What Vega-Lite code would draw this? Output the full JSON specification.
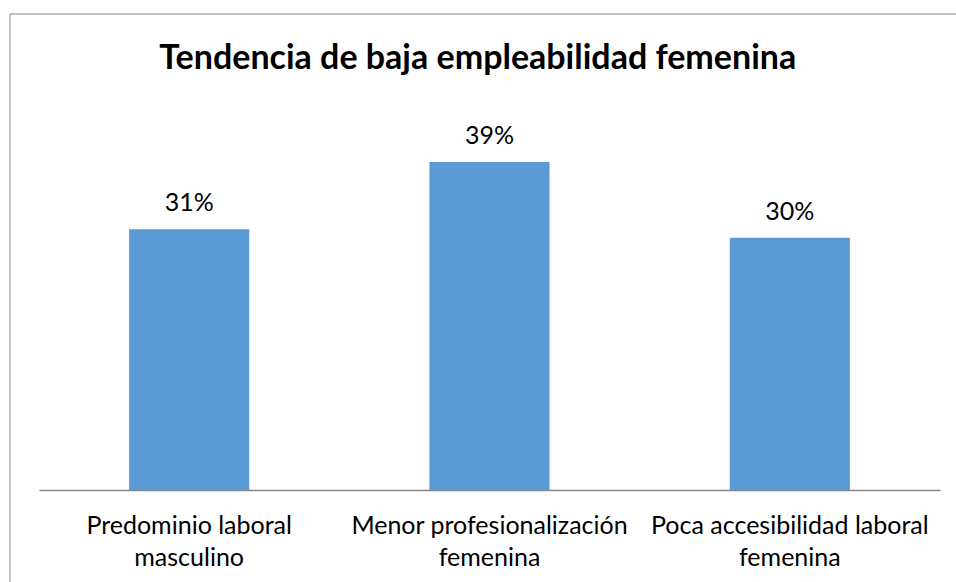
{
  "$schema": "https://vega.github.io/schema/vega-lite/v6.json",
  "width": 946.5,
  "height": 568.5,
  "autosize": {"type": "none"},
  "padding": {"left": 9.5, "top": 13.5, "right": 0, "bottom": 0},
  "background": "white",
  "config": {
    "view": {"stroke": "#868686", "strokeWidth": 1, "strokeDash": [1515, 1515], "strokeDashOffset": 568.5},
    "font": "Lato"
  },
  "title": {
    "text": "Tendencia de baja empleabilidad femenina",
    "font": "Lato",
    "fontSize": 34,
    "fontWeight": "bold",
    "color": "#000000",
    "anchor": "middle",
    "frame": "group",
    "baseline": "alphabetic",
    "offset": -54.5,
    "dx": -5,
    "dy": 35
  },
  "data": {
    "values": [
      {"categoria": "Predominio laboral masculino", "porcentaje": 0.31},
      {"categoria": "Menor profesionalización femenina", "porcentaje": 0.39},
      {"categoria": "Poca accesibilidad laboral femenina", "porcentaje": 0.30}
    ]
  },
  "encoding": {
    "x": {
      "field": "categoria",
      "type": "nominal",
      "sort": null,
      "scale": {"range": [29.5, 930.5], "paddingInner": 0.6, "paddingOuter": 0.3},
      "axis": {
        "title": null,
        "orient": "bottom",
        "offset": -92,
        "domainColor": "#868686",
        "domainWidth": 1.5,
        "ticks": false,
        "grid": false,
        "labelAngle": 0,
        "labelFont": "Lato",
        "labelFontSize": 25,
        "labelColor": "#000000",
        "labelBaseline": "top",
        "labelPadding": 23,
        "labelLineHeight": 32.5,
        "labelLimit": 0,
        "labelOverlap": false,
        "labelBound": false,
        "labelFlush": false,
        "labelExpr": "datum.value == 'Predominio laboral masculino' ? ['Predominio laboral', 'masculino'] : datum.value == 'Menor profesionalización femenina' ? ['Menor profesionalización', 'femenina'] : ['Poca accesibilidad laboral', 'femenina']"
      }
    },
    "y": {
      "field": "porcentaje",
      "type": "quantitative",
      "scale": {"domain": [0, 0.5], "range": [476.5, 56]},
      "axis": null
    }
  },
  "layer": [
    {"mark": {"type": "bar", "color": "#5B9BD5"}},
    {
      "mark": {"type": "text", "baseline": "alphabetic", "dy": -18, "font": "Lato", "fontSize": 25, "color": "#000000"},
      "encoding": {"text": {"field": "porcentaje", "type": "quantitative", "format": ".0%"}}
    }
  ]
}
